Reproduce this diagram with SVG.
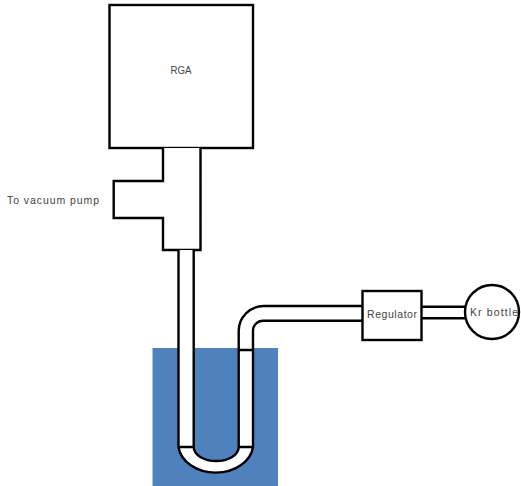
<svg xmlns="http://www.w3.org/2000/svg" width="521" height="486" viewBox="0 0 521 486">
<style>
.o{fill:none;stroke:#000;stroke-width:2.4;stroke-linejoin:miter}
.w{fill:#fff;stroke:#000;stroke-width:2.4}
.f{fill:#fff;stroke:none}
text{font-family:"Liberation Sans",Arial,sans-serif;font-size:10.5px;fill:#444}
</style>
<rect width="521" height="486" fill="#fff"/>
<g id="water"><rect x="152.500" y="348" width="125.500" height="138" fill="#4f81bd"/></g>
<g id="rga"><rect class="w" x="109.500" y="5" width="143.500" height="143"/><text x="181" y="74" text-anchor="middle" textLength="21" lengthAdjust="spacingAndGlyphs">RGA</text></g>
<g id="tee"><path class="w" d="M163 148V181H113.700V218H163V250H200.500V148"/><text x="7" y="204" textLength="92" lengthAdjust="spacing">To vacuum pump</text></g>
<g id="connectors">
<path class="f" d="M178.500 250H193.700V447A22.500 14 0 0 0 238.700 447V331A25 25 0 0 1 263.700 306H365V320.700H263A10 10 0 0 0 253 331V447A37.500 29 0 0 1 178.500 447Z"/>
<path class="o" d="M178.500 250V447A37.500 29 0 0 0 253 447V350"/>
<path class="o" d="M193.700 250V447A22.500 14 0 0 0 238.700 447V350"/>
<path class="o" d="M178.500 447H193.700M238.700 447H253M238.700 350H253"/>
<path class="o" d="M238.700 350V331A25 25 0 0 1 263.700 306H362.500"/>
<path class="o" d="M253 350V331A10 10 0 0 1 263 320.700H362.500"/>
<path class="o" d="M421.500 306.700H465M421.500 318.300H465"/>
</g>
<g id="regulator"><rect class="w" x="362.500" y="291" width="59" height="49"/><text x="367" y="318" textLength="50" lengthAdjust="spacing">Regulator</text></g>
<g id="bottle"><circle class="w" cx="492" cy="312" r="27"/><text x="470" y="316" textLength="48" lengthAdjust="spacing">Kr bottle</text></g>
</svg>
